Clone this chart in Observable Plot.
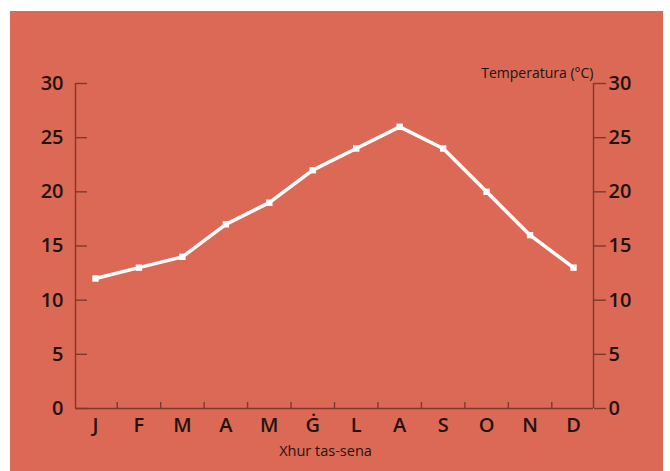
<!DOCTYPE html>
<html>
<head>
<meta charset="utf-8">
<script src="https://cdn.jsdelivr.net/npm/d3@7"></script>
<script src="https://cdn.jsdelivr.net/npm/@observablehq/plot@0.6"></script>
<style>
  html, body { margin: 0; padding: 0; background: #ffffff; }
  #panel { position: absolute; left: 10px; top: 11px; width: 653px; height: 460px; background: #dc6955; }
  #panel svg { display: block; }
</style>
</head>
<body>
<div id="panel"></div>
<script>
const months = ["J", "F", "M", "A", "M", "Ġ", "L", "A", "S", "O", "N", "D"];
const temps = [12, 13, 14, 17, 19, 22, 24, 26, 24, 20, 16, 13];
const yTicks = [0, 5, 10, 15, 20, 25, 30];
const yTitle = "Temperatura (°C)";
const xTitle = "Xhur tas-sena";

const data = months.map((m, i) => ({i, month: m, temp: temps[i]}));
const idx = months.map((_, i) => i);
const boundaries = idx.slice(1).map(i => i - 0.5);
const pad = 0.46;
const xMin = -pad, xMax = months.length - 1 + pad;

const axisColor = "#7a3a2e";
const textColor = "#22130e";

const chart = Plot.plot({
  width: 653,
  height: 460,
  marginLeft: 65,
  marginRight: 70,
  marginTop: 72,
  marginBottom: 63,
  style: {background: "transparent", fontFamily: "'Open Sans', sans-serif", color: textColor},
  x: {type: "linear", domain: [xMin, xMax]},
  y: {domain: [0, 30]},
  marks: [
    Plot.ruleX([xMin, xMax], {y1: 0, y2: 30, stroke: axisColor, strokeWidth: 1.4}),
    Plot.ruleY([0], {x1: xMin, x2: xMax, stroke: axisColor, strokeWidth: 1.4}),
    Plot.ruleY(yTicks, {x1: xMin, x2: xMin, insetRight: -12, stroke: axisColor, strokeWidth: 1.4}),
    Plot.ruleX(boundaries, {y1: 0, y2: 0, insetTop: -6, stroke: axisColor, strokeWidth: 1.4}),
    Plot.axisY(yTicks, {anchor: "left", tickSize: 0, tickPadding: 12, fontSize: 20, fontWeight: 600, fill: textColor, label: null}),
    Plot.axisY(yTicks, {anchor: "right", tickSize: 12, tickPadding: 3, fontSize: 20, fontWeight: 600, fill: textColor, stroke: axisColor, strokeWidth: 1.4, label: null}),
    Plot.axisX(idx, {anchor: "bottom", tickSize: 0, tickPadding: 9, fontSize: 20, fontWeight: 600, fill: textColor, tickFormat: i => months[i], label: null}),
    Plot.line(data, {x: "i", y: "temp", stroke: "white", strokeWidth: 3.5}),
    Plot.dot(data, {x: "i", y: "temp", symbol: "square", r: 3.6, fill: "white", stroke: "none"}),
    Plot.text([yTitle], {frameAnchor: "top-right", dy: -15, textAnchor: "end", fontSize: 14, fill: textColor}),
    Plot.text([xTitle], {frameAnchor: "bottom", dy: 47, dx: -9, fontSize: 14.5, fill: textColor})
  ]
});
document.getElementById("panel").appendChild(chart);
</script>
</body>
</html>
